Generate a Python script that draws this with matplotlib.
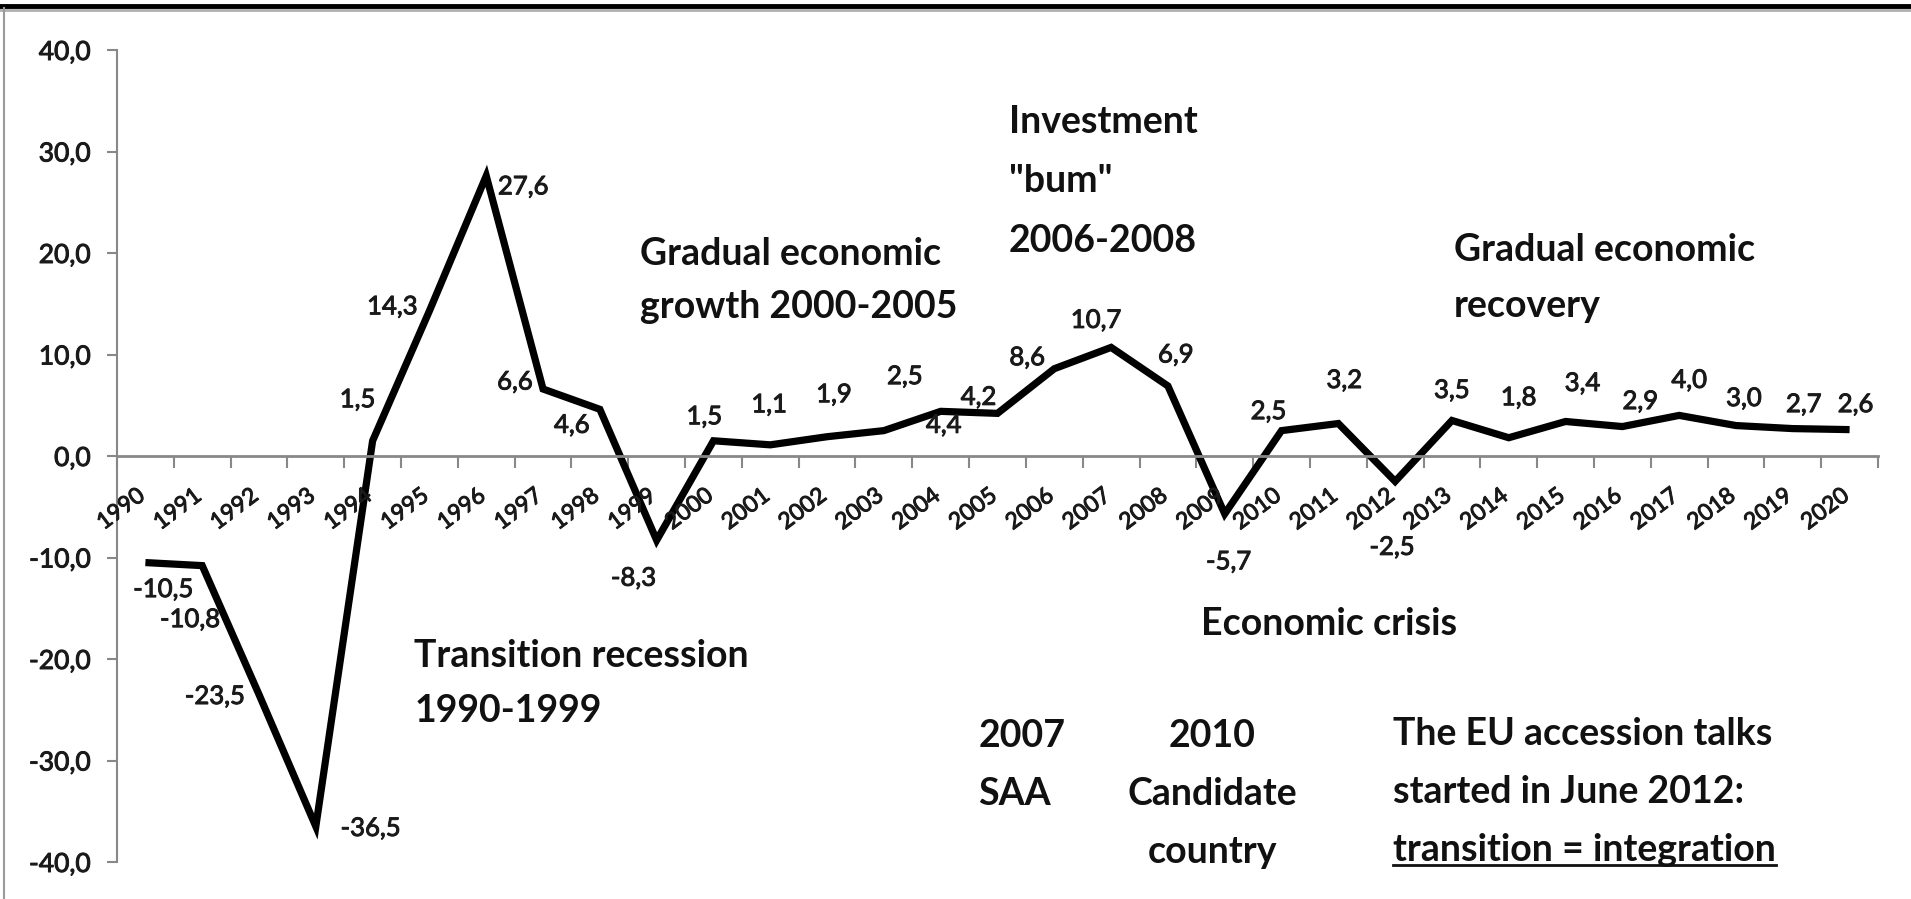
import matplotlib
matplotlib.use("Agg")
import matplotlib.pyplot as plt
import matplotlib.patheffects as pe
from matplotlib.lines import Line2D
from matplotlib.ticker import FuncFormatter

plt.rcParams['font.family'] = ['Lato', 'DejaVu Sans']

# GDP growth data
years = [str(y) for y in range(1990, 2021)]
growth = [-10.5, -10.8, -23.5, -36.5, 1.5, 14.3, 27.6, 6.6, 4.6, -8.3,
          1.5, 1.1, 1.9, 2.5, 4.4, 4.2, 8.6, 10.7, 6.9, -5.7,
          2.5, 3.2, -2.5, 3.5, 1.8, 3.4, 2.9, 4.0, 3.0, 2.7, 2.6]
# label offsets from each point, pixels
label_dx = [18, -12, -44, 55, -15, -37, 37, -28, -28, -23,
            -9, -1, 7, 21, 3, -19, -27, -15, 8, 4,
            -13, 6, -3, 0, 10, 17, 18, 10, 8, 11, 6]
label_dy = [-27, -54, -2, -2, 41, 4, -11, 7, -16, -38,
            24, 40, 42, 54, -14, 16, 11, 27, 31, -48,
            19, 43, -66, 30, 40, 38, 25, 35, 27, 24, 25]

thick = [pe.withStroke(linewidth=0.7, foreground='#1a1a1a')]

fig = plt.figure(figsize=(19.11, 8.99), dpi=100)
ax = fig.add_axes([117 / 1911, 1 - 862 / 899, 1761 / 1911, 812 / 899])

x = list(range(len(years)))
ax.plot(x, growth, color='black', lw=5.2, solid_joinstyle='miter', solid_capstyle='butt')

for i, v in enumerate(growth):
    ax.annotate(f"{v:.1f}".replace('.', ','), (i, v), xytext=(label_dx[i], label_dy[i]),
                textcoords='offset pixels', ha='center', va='center',
                fontsize=18.5, color='#1a1a1a', path_effects=thick)

# category labels under the zero line, rotated
for i, yr in enumerate(years):
    ax.annotate(yr, (i, 0), xytext=(3, -29), textcoords='offset pixels',
                rotation=37, rotation_mode='default', ha='right', va='top',
                fontsize=16.5, color='#1a1a1a', path_effects=thick)

ax.set_xlim(-0.5, len(years) - 0.5)
ax.set_ylim(-40, 40)

# tick marks sit on category boundaries
ax.set_xticks([k - 0.5 for k in range(len(years) + 1)])
ax.tick_params(axis='x', direction='out', length=8.5, width=1.5, color='#888888',
               labelbottom=False)
ax.set_yticks([-40, -30, -20, -10, 0, 10, 20, 30, 40])
ax.yaxis.set_major_formatter(FuncFormatter(lambda v, p: f"{v:.1f}".replace('.', ',')))
ax.tick_params(axis='y', direction='out', length=7, width=1.5, color='#888888',
               pad=12, labelsize=19, labelcolor='#1a1a1a')
for lab in ax.get_yticklabels():
    lab.set_path_effects(thick)

for s in ['top', 'right']:
    ax.spines[s].set_visible(False)
ax.spines['bottom'].set_position(('data', 0))
ax.spines['bottom'].set_color('#888888')
ax.spines['bottom'].set_linewidth(2)
ax.spines['left'].set_color('#888888')
ax.spines['left'].set_linewidth(1.5)
ax.patch.set_alpha(0)

bold = dict(fontsize=27, fontweight='bold', color='#111111', va='center')


def lines_at(xpos, ytop, texts, step=5.6, ha='left'):
    out = []
    for j, t in enumerate(texts):
        out.append(ax.text(xpos, ytop - j * step, t, ha=ha, **bold))
    return out


lines_at(4.73, -19.7, ["Transition recession", "1990-1999"], step=5.4)
lines_at(8.71, 19.9, ["Gradual economic", "growth 2000-2005"], step=5.2)
lines_at(15.2, 32.9, ["Investment", "\"bum\"", "2006-2008"], step=5.85)
lines_at(23.04, 20.3, ["Gradual economic", "recovery"], step=5.5)
lines_at(18.58, -16.6, ["Economic crisis"])
lines_at(14.66, -27.6, ["2007", "SAA"], step=5.7)
lines_at(18.78, -27.6, ["2010", "Candidate", "country"], step=5.7, ha='center')
eu = lines_at(21.96, -27.4, ["The EU accession talks", "started in June 2012:",
                             "transition = integration"], step=5.7)

# underline the last line
fig.canvas.draw()
bb = eu[-1].get_window_extent(fig.canvas.get_renderer())
uy = bb.y0 + 2
fig.add_artist(Line2D([bb.x0 / 1911, bb.x1 / 1911], [uy / 899, uy / 899],
                      color='#111111', lw=2))

# frame
fig.add_artist(Line2D([0, 1], [1 - 6 / 899, 1 - 6 / 899], color='black', lw=3.5))
fig.add_artist(Line2D([0, 1], [1 - 10 / 899, 1 - 10 / 899], color='#b0b0b0', lw=2))
fig.add_artist(Line2D([4 / 1911, 4 / 1911], [0, 1 - 8 / 899], color='#9a9a9a', lw=1.5))

fig.savefig("out.png", dpi=100)
